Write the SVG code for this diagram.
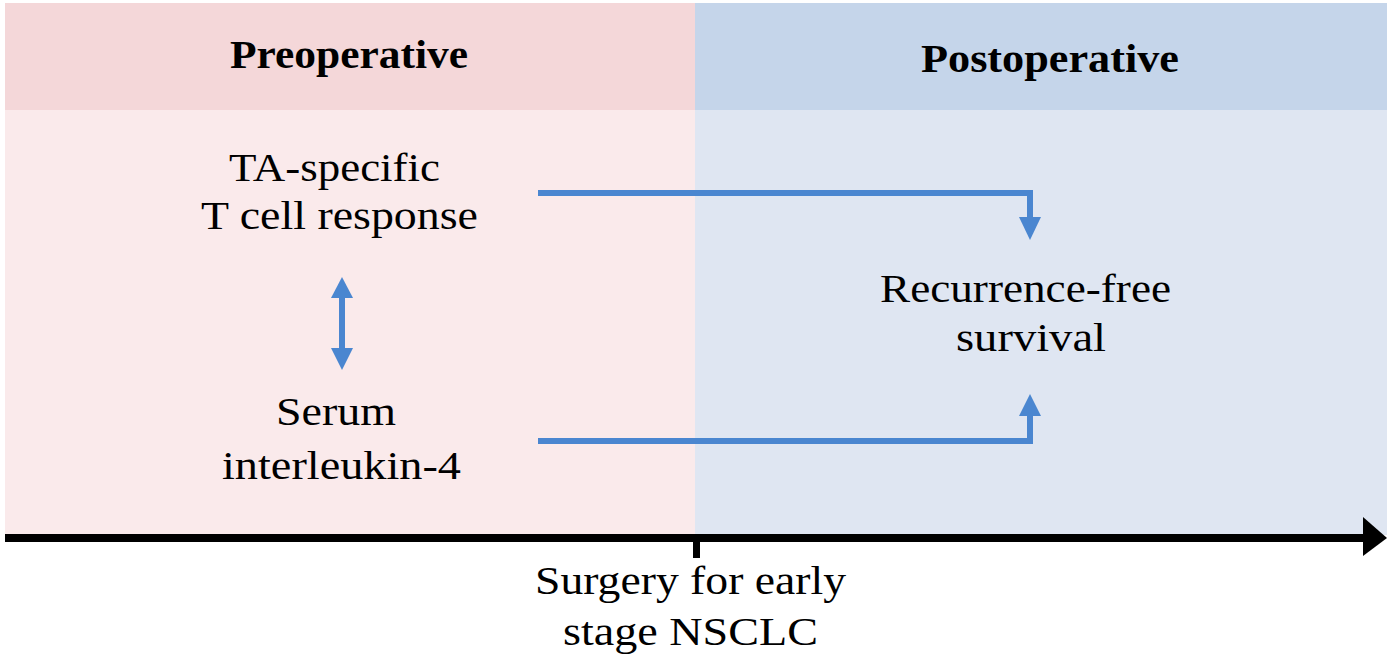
<svg xmlns="http://www.w3.org/2000/svg" width="1387" height="669" viewBox="0 0 1387 669">
  <defs>
    <style>
      .t { font-family: "Liberation Serif", "Times New Roman", serif; font-size: 41px; fill: #000; text-anchor: middle; }
      .h { font-family: "Liberation Serif", "Times New Roman", serif; font-size: 39px; font-weight: bold; fill: #000; text-anchor: middle; }
      .conn { fill: none; stroke: #4A86D0; stroke-width: 6; }
      .head { fill: #4A86D0; }
    </style>
  </defs>
  <rect width="1387" height="669" fill="#ffffff"/>
  <g id="panels">
    <rect x="5" y="3" width="690" height="107" fill="#F4D7D9"/>
    <rect x="5" y="110" width="690" height="425" fill="#FAEAEB"/>
    <rect x="695" y="3" width="692" height="107" fill="#C5D5EA"/>
    <rect x="695" y="110" width="692" height="425" fill="#DFE6F2"/>
  </g>
  <g id="header-pre"><text class="h" x="349" y="68" textLength="238" lengthAdjust="spacingAndGlyphs">Preoperative</text></g>
  <g id="header-post"><text class="h" x="1050" y="72" textLength="258" lengthAdjust="spacingAndGlyphs">Postoperative</text></g>
  <g id="node-ta"><text class="t" x="334.5" y="181" textLength="211" lengthAdjust="spacingAndGlyphs">TA-specific</text><text class="t" x="339.5" y="229" textLength="277" lengthAdjust="spacingAndGlyphs">T cell response</text></g>
  <g id="node-il4"><text class="t" x="336" y="425" textLength="120" lengthAdjust="spacingAndGlyphs">Serum</text><text class="t" x="341.5" y="479" textLength="239" lengthAdjust="spacingAndGlyphs">interleukin-4</text></g>
  <g id="node-rfs"><text class="t" x="1025.5" y="302" textLength="291" lengthAdjust="spacingAndGlyphs">Recurrence-free</text><text class="t" x="1031" y="351" textLength="150" lengthAdjust="spacingAndGlyphs">survival</text></g>
  <g id="node-surgery"><text class="t" x="690.5" y="594" textLength="311" lengthAdjust="spacingAndGlyphs">Surgery for early</text><text class="t" x="690.5" y="645" textLength="255" lengthAdjust="spacingAndGlyphs">stage NSCLC</text></g>
  <g id="connectors">
    <polyline class="conn" points="538,193 1030,193 1030,218"/>
    <polygon class="head" points="1019,217 1041,217 1030,240"/>
    <polyline class="conn" points="538,441 1030,441 1030,415"/>
    <polygon class="head" points="1019,416 1041,416 1030,394"/>
    <line class="conn" x1="342" y1="296" x2="342" y2="352"/>
    <polygon class="head" points="331,298 353,298 342,277"/>
    <polygon class="head" points="331,348 353,348 342,370"/>
  </g>
  <g id="axis">
    <rect x="5" y="534" width="1362" height="8" fill="#000"/>
    <polygon points="1363,517 1387,538 1363,556" fill="#000"/>
    <rect x="693" y="538" width="7" height="20" fill="#000"/>
  </g>
</svg>
